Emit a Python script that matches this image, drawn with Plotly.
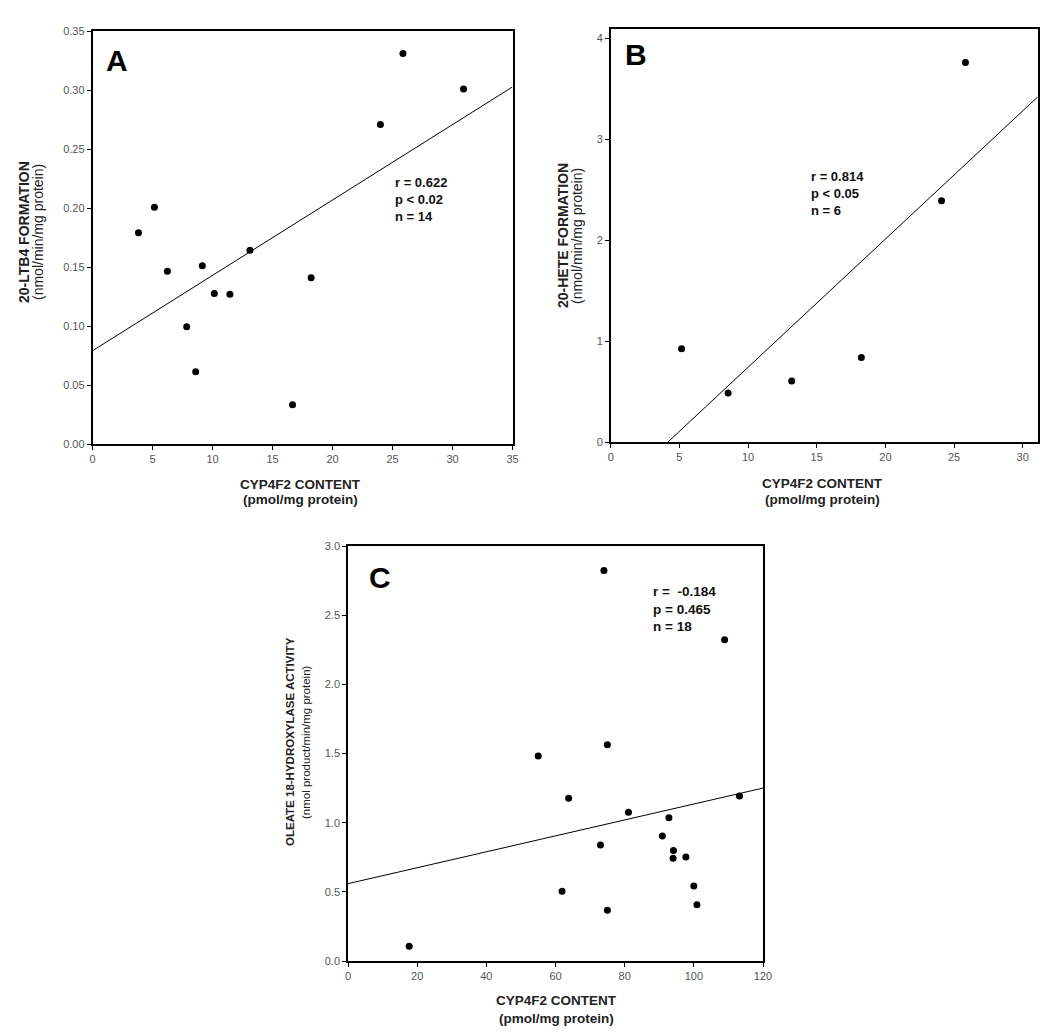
import plotly.graph_objects as go

# The page body adds an 8 px margin, so positions below are page pixels and
# are converted to figure pixels by subtracting OFF.
OFF = 8
W, H = 1034, 1019

# ---------------- Data ----------------
a_x = [3.83, 5.16, 6.24, 7.85, 8.6, 9.15, 10.15, 11.45, 13.12, 16.67, 18.22, 23.99, 25.87, 30.92]
a_y = [0.179, 0.2007, 0.1465, 0.0993, 0.0612, 0.151, 0.1276, 0.127, 0.1643, 0.0333, 0.1408, 0.2707, 0.331, 0.3009]
a_fit_x = [0, 35]
a_fit_y = [0.079, 0.3026]

b_x = [5.16, 8.55, 13.18, 18.25, 24.09, 25.83]
b_y = [0.924, 0.485, 0.604, 0.838, 2.39, 3.76]
b_fit_x = [4.17, 31.09]
b_fit_y = [0.0, 3.42]

c_x = [74.0, 108.9, 75.0, 55.0, 63.8, 113.2, 81.1, 92.8, 90.9, 73.0, 94.1, 94.0, 97.7, 100.0, 61.9, 75.0, 100.9, 17.7]
c_y = [2.822, 2.323, 1.564, 1.482, 1.176, 1.193, 1.075, 1.036, 0.904, 0.839, 0.798, 0.742, 0.752, 0.542, 0.504, 0.366, 0.407, 0.106]
c_fit_x = [0, 120]
c_fit_y = [0.559, 1.25]

a_xticks = [0, 5, 10, 15, 20, 25, 30, 35]
a_yticks = [0.00, 0.05, 0.10, 0.15, 0.20, 0.25, 0.30, 0.35]
b_xticks = [0, 5, 10, 15, 20, 25, 30]
b_yticks = [0, 1, 2, 3, 4]
c_xticks = [0, 20, 40, 60, 80, 100, 120]
c_yticks = [0.0, 0.5, 1.0, 1.5, 2.0, 2.5, 3.0]

stats_a = ["r = 0.622", "p < 0.02", "n = 14"]
stats_b = ["r = 0.814", "p < 0.05", "n = 6"]
stats_c = ["r =  -0.184", "p = 0.465", "n = 18"]

ytitle_a = ["20-LTB4 FORMATION", "(nmol/min/mg protein)"]
ytitle_b = ["20-HETE FORMATION", "(nmol/min/mg protein)"]
ytitle_c = ["OLEATE 18-HYDROXYLASE ACTIVITY", "(nmol product/min/mg protein)"]
xtitle = ["CYP4F2 CONTENT", "(pmol/mg protein)"]

# ---------------- Layout helpers (pixel boxes) ----------------
FONT = "Liberation Sans, Arial, sans-serif"
px = lambda x: (x - OFF) / W
py = lambda y: 1 - (y - OFF) / H

panels = {
    "A": dict(box=(92.5, 31, 512.5, 444), xr=[0, 35], yr=[0, 0.35], xt=a_xticks, yt=a_yticks,
              yfmt=".2f", xfmt="d", x=a_x, y=a_y, fx=a_fit_x, fy=a_fit_y, stats=stats_a,
              stats_pos=(393, 200), stats_size=13, letter_pos=(117, 61), ytitle=ytitle_a,
              ytitle_size=14, ytitle_pos=(24, 38, 232), xtitle_pos=(300, 484, 500)),
    "B": dict(box=(610.7, 29.3, 1037.7, 442), xr=[0, 31.09], yr=[0, 4.09], xt=b_xticks, yt=b_yticks,
              yfmt="d", xfmt="d", x=b_x, y=b_y, fx=b_fit_x, fy=b_fit_y, stats=stats_b,
              stats_pos=(809, 194), stats_size=13, letter_pos=(636, 55), ytitle=ytitle_b,
              ytitle_size=14, ytitle_pos=(563, 577, 236), xtitle_pos=(822, 483, 499)),
    "C": dict(box=(348, 546, 763, 961), xr=[0, 120], yr=[0, 3.0], xt=c_xticks, yt=c_yticks,
              yfmt=".1f", xfmt="d", x=c_x, y=c_y, fx=c_fit_x, fy=c_fit_y, stats=stats_c,
              stats_pos=(651, 609), stats_size=13.5, letter_pos=(380, 577), ytitle=ytitle_c,
              ytitle_size=11.5, ytitle_pos=(290, 306, 742), xtitle_pos=(556, 1000, 1018)),
}

fig = go.Figure()
annotations = []
layout_axes = {}

for i, (name, p) in enumerate(panels.items(), start=1):
    xa = "x" if i == 1 else f"x{i}"
    ya = "y" if i == 1 else f"y{i}"
    xkey = "xaxis" if i == 1 else f"xaxis{i}"
    ykey = "yaxis" if i == 1 else f"yaxis{i}"
    l, t, r, b = p["box"]

    fig.add_trace(go.Scatter(x=p["fx"], y=p["fy"], mode="lines",
                             line=dict(color="black", width=1), xaxis=xa, yaxis=ya,
                             showlegend=False, hoverinfo="skip"))
    fig.add_trace(go.Scatter(x=p["x"], y=p["y"], mode="markers",
                             marker=dict(color="black", size=7, symbol="circle"),
                             xaxis=xa, yaxis=ya, showlegend=False))

    common = dict(showgrid=False, zeroline=False, showline=True, linecolor="black",
                  linewidth=1.5, mirror=True, ticks="outside", ticklen=4, tickwidth=1,
                  tickcolor="black", automargin=False,
                  tickfont=dict(family=FONT, size=11, color="#555555"))
    layout_axes[xkey] = dict(common, domain=[px(l), px(r)], range=p["xr"], tickvals=p["xt"],
                             tickformat=p["xfmt"], anchor=ya)
    layout_axes[ykey] = dict(common, domain=[py(b), py(t)], range=p["yr"], tickvals=p["yt"],
                             tickformat=p["yfmt"], anchor=xa)

    # panel letter
    lx, ly = p["letter_pos"]
    annotations.append(dict(text=f"<b>{name}</b>", x=px(lx), y=py(ly), xref="paper", yref="paper",
                            xanchor="center", yanchor="middle", showarrow=False,
                            font=dict(family=FONT, size=30, color="black")))
    # stats text
    sx, sy = p["stats_pos"]
    annotations.append(dict(text="<br>".join(f"<b>{s}</b>" for s in p["stats"]),
                            x=px(sx), y=py(sy), xref="paper", yref="paper",
                            xanchor="left", yanchor="middle", align="left", showarrow=False,
                            font=dict(family=FONT, size=p["stats_size"], color="#111111")))
    # y title (two lines, rotated)
    y1x, y2x, ycy = p["ytitle_pos"]
    ys = p["ytitle_size"]
    annotations.append(dict(text=f"<b>{p['ytitle'][0]}</b>", x=px(y1x), y=py(ycy), xref="paper",
                            yref="paper", xanchor="center", yanchor="middle", textangle=-90,
                            showarrow=False, font=dict(family=FONT, size=ys, color="#222222")))
    annotations.append(dict(text=p["ytitle"][1], x=px(y2x), y=py(ycy), xref="paper",
                            yref="paper", xanchor="center", yanchor="middle", textangle=-90,
                            showarrow=False, font=dict(family=FONT, size=ys, color="#222222")))
    # x title (two lines)
    xcx, xy1, xy2 = p["xtitle_pos"]
    annotations.append(dict(text=f"<b>{xtitle[0]}</b>", x=px(xcx), y=py(xy1), xref="paper",
                            yref="paper", xanchor="center", yanchor="middle", showarrow=False,
                            font=dict(family=FONT, size=13.5, color="#222222")))
    annotations.append(dict(text=f"<b>{xtitle[1]}</b>", x=px(xcx), y=py(xy2), xref="paper",
                            yref="paper", xanchor="center", yanchor="middle", showarrow=False,
                            font=dict(family=FONT, size=13.5, color="#222222")))

fig.update_layout(width=W, height=H, margin=dict(l=0, r=0, t=0, b=0),
                  paper_bgcolor="white", plot_bgcolor="white",
                  annotations=annotations, **layout_axes)

fig.write_html("out.html")
